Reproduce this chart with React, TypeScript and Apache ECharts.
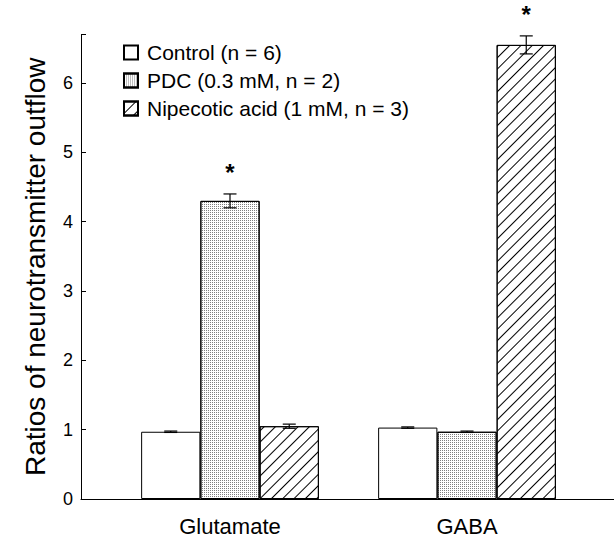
import React, { useEffect, useRef } from "react";
import * as echarts from "echarts";

const categories = ["Glutamate", "GABA"];
const seriesNames = ["Control (n = 6)", "PDC (0.3 mM, n = 2)", "Nipecotic acid (1 mM, n = 3)"];
const controlValues = [0.97, 1.03];
const controlErrors = [0.01, 0.01];
const pdcValues = [4.3, 0.97];
const pdcErrors = [0.1, 0.01];
const nipecoticValues = [1.05, 6.55];
const nipecoticErrors = [0.03, 0.13];
const significant = [
  [false, false],
  [true, false],
  [false, true],
];
const yTicks = [0, 1, 2, 3, 4, 5, 6];

const FONT = "Liberation Sans, Arial, Helvetica, sans-serif";

export default function App() {
  const ref = useRef<HTMLDivElement>(null);
  useEffect(() => {
    document.body.style.margin = "0";
    const chart = echarts.init(ref.current!, null, { renderer: "svg" });
    const values = [controlValues, pdcValues, nipecoticValues];
    const errors = [controlErrors, pdcErrors, nipecoticErrors];
    const errData: any[] = [];
    values.forEach((arr, s) =>
      arr.forEach((v, c) => errData.push([c, v, errors[s][c], s, significant[s][c] ? 1 : 0]))
    );
    const top = 34.5;
    const bottom = 47;
    const yMin = 0;
    const yMax = 6.7;
    const styles = [
      { color: "#ffffff", borderColor: "#000", borderWidth: 1 },
      {
        color: "#ffffff",
        borderColor: "#000",
        borderWidth: 1,
        decal: {
          symbol: "rect",
          symbolSize: 1,
          dashArrayX: [1, 1],
          dashArrayY: [1, 1],
          color: "rgba(0,0,0,0.5)",
        },
      },
      {
        color: "#ffffff",
        borderColor: "#000",
        borderWidth: 1,
        decal: {
          symbol: "rect",
          symbolSize: 1,
          dashArrayX: [1, 0],
          dashArrayY: [1, 6.2],
          rotation: -Math.PI / 4,
          color: "#000",
        },
      },
    ];
    chart.setOption({
      animation: false,
      backgroundColor: "#ffffff",
      textStyle: { fontFamily: FONT },
      legend: {
        orient: "vertical",
        left: 118,
        top: 37,
        icon: "rect",
        itemWidth: 14,
        itemHeight: 14,
        itemGap: 7,
        textStyle: { fontSize: 21, color: "#000", fontFamily: FONT, padding: [0, 0, 0, 4] },
        data: seriesNames,
      },
      grid: [
        { left: 81, right: 0, top, bottom },
        { left: 111.5, right: 28.5, top, bottom },
      ],
      xAxis: [
        {
          type: "value",
          gridIndex: 0,
          min: 0,
          max: 1,
          axisLine: { show: true, onZero: false, lineStyle: { color: "#000", width: 1 } },
          axisTick: { show: false },
          axisLabel: { show: false },
          splitLine: { show: false },
        },
        {
          type: "category",
          gridIndex: 1,
          data: categories,
          axisLine: { show: false },
          axisTick: { show: false },
          axisLabel: { fontSize: 22, color: "#000", margin: 16, fontFamily: FONT },
        },
      ],
      yAxis: [
        {
          type: "value",
          gridIndex: 0,
          min: yMin,
          max: yMax,
          interval: 1,
          name: "Ratios of neurotransmitter outflow",
          nameLocation: "middle",
          nameGap: 32,
          nameTextStyle: { fontSize: 28, color: "#000", fontFamily: FONT },
          axisLine: { show: true, lineStyle: { color: "#000", width: 1 } },
          axisTick: { show: true, inside: true, length: 5, lineStyle: { color: "#000" } },
          axisLabel: {
            fontSize: 18,
            color: "#000",
            margin: 8,
            fontFamily: FONT,
            formatter: (v: number) => (yTicks.includes(v) ? String(v) : ""),
          },
          splitLine: { show: false },
        },
        {
          type: "value",
          gridIndex: 1,
          min: yMin,
          max: yMax,
          interval: 1,
          show: false,
          splitLine: { show: false },
        },
      ],
      series: [
        ...values.map((arr, s) => ({
          type: "bar",
          name: seriesNames[s],
          xAxisIndex: 1,
          yAxisIndex: 1,
          data: arr,
          barGap: "0%",
          barCategoryGap: "25%",
          itemStyle: styles[s],
        })),
        {
          type: "custom",
          xAxisIndex: 1,
          yAxisIndex: 1,
          data: errData,
          z: 10,
          silent: true,
          renderItem: (params: any, api: any) => {
            const c = api.value(0);
            const v = api.value(1);
            const e = api.value(2);
            const s = api.value(3);
            const sig = api.value(4);
            const center = api.coord([c, v]);
            const band = api.size([1, 0])[0];
            const bw = band * 0.25;
            const cx = center[0] + (s - 1) * bw;
            const yt = api.coord([c, v + e])[1];
            const yb = api.coord([c, v - e])[1];
            const hw = 6.5;
            const st = { stroke: "#000", lineWidth: 1.2 };
            const children: any[] = [
              { type: "line", shape: { x1: cx, y1: yt, x2: cx, y2: yb }, style: st },
              { type: "line", shape: { x1: cx - hw, y1: yt, x2: cx + hw, y2: yt }, style: st },
              { type: "line", shape: { x1: cx - hw, y1: yb, x2: cx + hw, y2: yb }, style: st },
            ];
            if (sig) {
              children.push({
                type: "text",
                style: {
                  x: cx,
                  y: yt - 9,
                  text: "*",
                  fontSize: 24,
                  fontWeight: "bold",
                  fontFamily: FONT,
                  fill: "#000",
                  align: "center",
                  verticalAlign: "bottom",
                },
              });
            }
            return { type: "group", children };
          },
        },
      ],
    });
    return () => chart.dispose();
  }, []);
  return <div ref={ref} style={{ width: 614, height: 546 }} />;
}
